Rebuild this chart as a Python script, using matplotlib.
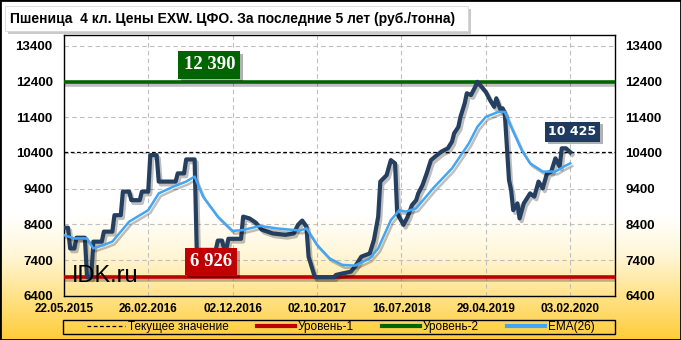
import matplotlib
matplotlib.use('Agg')
import matplotlib.pyplot as plt
import matplotlib.patheffects as pe
from matplotlib.patches import Rectangle
from matplotlib.lines import Line2D
import numpy as np

plt.rcParams['font.family'] = ['Liberation Sans', 'DejaVu Sans']

title = "Пшеница  4 кл. Цены EXW. ЦФО. За последние 5 лет (руб./тонна)"

# weekly series, x = week number since 22.05.2015
price_week = [0, 2, 3, 5, 6, 10, 11, 13, 14, 18, 19, 23, 24, 27, 28, 31, 32, 36, 37, 40,
              41, 44, 45, 53, 54, 57, 58, 62, 63, 72, 73, 75, 76, 77, 78, 84, 85, 88, 91, 94,
              99, 105, 109, 111, 113, 115, 116, 119, 128, 129, 132, 136, 138, 141, 145, 147, 149, 150, 153, 155,
              157, 158, 161, 163, 165, 167, 168, 170, 172, 174, 176, 179, 182, 184, 185, 187, 188, 190, 191, 193,
              195, 196, 198, 200, 202, 204, 205, 207, 208, 209, 211, 212, 213, 215, 216, 218, 221, 223, 225, 227,
              229, 231, 233, 235, 236, 238, 240]
price = [8310, 8310, 7730, 7730, 8030, 8030, 6926, 6926, 7920, 7920, 8200, 8200, 8660, 8660, 9320, 9320, 9080, 9080, 9320, 9320,
         10340, 10340, 9600, 9600, 9830, 9830, 10220, 10220, 7690, 7690, 7950, 7950, 7700, 7700, 8000, 8000, 8620, 8570, 8450, 8250,
         8150, 8110, 8150, 8390, 8510, 8340, 7500, 6926, 6926, 6990, 7030, 7080, 7220, 7500, 7590, 7970, 8620, 9600, 9780, 10200,
         10110, 8710, 8390, 8620, 8940, 9080, 9270, 9500, 9830, 10200, 10300, 10440, 10530, 10720, 10950, 11130, 11410, 11790, 12070, 12020,
         12250, 12390, 12250, 12110, 11880, 11690, 11930, 11600, 11650, 11510, 9640, 9360, 8800, 8990, 8570, 8990, 9270, 9180, 9600, 9410,
         9830, 9880, 10250, 10020, 10530, 10530, 10425]

ema_week = [0, 5, 11, 14, 19, 23, 27, 31, 40, 45, 52, 58, 62, 66, 73, 80, 85, 93, 101, 112,
            115, 120, 126, 132, 138, 145, 149, 155, 159, 162, 167, 175, 184, 192, 196, 200, 206, 209, 212, 217,
            221, 227, 233, 237, 240]
ema = [8105, 8010, 8010, 7730, 7830, 7920, 8200, 8480, 8800, 9270, 9460, 9600, 9740, 9180, 8620, 8220, 8245, 8360, 8290, 8230,
       8290, 7830, 7450, 7270, 7250, 7450, 7730, 8520, 8800, 8760, 8850, 9410, 9970, 10670, 11130, 11410, 11550, 11550, 11130, 10480,
       10110, 9880, 9880, 10020, 10110]

date_labels = ["22.05.2015", "26.02.2016", "02.12.2016", "02.10.2017",
               "16.07.2018", "29.04.2019", "03.02.2020"]
level1 = 6926
level2 = 12390
current = 10425

W, H = 681, 340
fig = plt.figure(figsize=(W / 100, H / 100), dpi=100)

# background gradient white -> gold
bg = fig.add_axes([0, 0, 1, 1], zorder=-10)
bg.axis('off')
rows = np.arange(H)
sy = [0, 215, 255, 296, 340]
r = np.interp(rows, sy, [255, 255, 255, 255, 255])
g = np.interp(rows, sy, [255, 255, 246, 226, 204])
b = np.interp(rows, sy, [255, 255, 214, 136, 55])
grad = np.stack([r, g, b], axis=1)[:, None, :] / 255
bg.imshow(grad, aspect='auto', extent=[0, 1, 0, 1])
bg.set_xlim(0, 1)
bg.set_ylim(0, 1)

# title box with shadow
fig.patches.append(Rectangle((8 / W, 1 - 34 / H), 463 / W, 25 / H, transform=fig.transFigure,
                             fc='#A8A8A8', ec='none', alpha=0.6, zorder=1))
fig.patches.append(Rectangle((5 / W, 1 - 31 / H), 463 / W, 25 / H, transform=fig.transFigure,
                             fc='white', ec='#D0D0D0', lw=0.5, zorder=2))
fig.text(10 / W, 1 - 18.5 / H, title, fontsize=10, fontweight='bold', va='center', ha='left', zorder=3)

# outer frame
fig.patches.append(Rectangle((0, 0), 1, 1, transform=fig.transFigure, fill=False, ec='black', lw=2, zorder=5))

ax = fig.add_axes([63.8 / W, 44 / H, 550.7 / W, 261 / H])
ax.set_facecolor('none')
ax.set_xlim(0, 261)
ax.set_ylim(6400, 13700)
ax.set_yticks(range(6400, 13401, 1000))
ax.set_xticks(range(0, 241, 40))
ax.set_xticklabels(date_labels)
ax.tick_params(axis='both', length=0, labelsize=9.5)
ax.tick_params(axis='y', labelright=True, pad=8)
ax.tick_params(axis='x', labelsize=8.5, pad=5)
for lab in ax.get_xticklabels():
    lab.set_fontweight('bold')
for t in ax.yaxis.get_major_ticks():
    t.label1.set_fontweight('bold')
    t.label2.set_fontweight('bold')
ax.grid(True, color='#BFBFBF', linestyle=(0, (4, 3)), lw=0.8)
for s in ax.spines.values():
    s.set_color('black')
    s.set_linewidth(1)

shadow = [pe.SimpleLineShadow(offset=(1.5, -2), shadow_color='black', alpha=0.25), pe.Normal()]

ax.axhline(level2, color='#006400', lw=2.6, path_effects=shadow, zorder=3)
ax.axhline(level1, color='#C00000', lw=2.6, path_effects=shadow, zorder=3)
ax.axhline(current, color='black', lw=0.9, ls=(0, (3, 2)), zorder=3)

ax.plot(price_week, price, color='#243F60', lw=3, solid_joinstyle='round',
        path_effects=shadow, zorder=4)
ax.plot(ema_week, ema, color='#42A5F5', lw=1.8, solid_joinstyle='round',
        path_effects=shadow, zorder=5)

ax.text(4, 6800, "IDK.ru", fontsize=17, color='black', va='baseline', ha='left', zorder=6)

box_shadow = [pe.SimplePatchShadow(offset=(2, -2), shadow_rgbFace='black', alpha=0.3), pe.Normal()]
for x, y, txt, fc, fam, fs in [(69, 12866, "12 390", '#006400', 'Liberation Serif', 13.5),
                               (69.7, 7364, "6 926", '#C00000', 'Liberation Serif', 13.5),
                               (241, 10995, "10 425", '#1F3A5F', 'DejaVu Sans', 9)]:
    t = ax.text(x, y, txt, color='white', fontsize=fs, fontweight='bold', family=fam,
                ha='center', va='center', zorder=7,
                bbox=dict(boxstyle='square,pad=0.28', fc=fc, ec='none'))
    t.get_bbox_patch().set_path_effects(box_shadow)

# legend: frame drawn separately, entries centred inside
fig.patches.append(Rectangle((63 / W, 1 - 334 / H), 552 / W, 14 / H, transform=fig.transFigure,
                             fill=False, ec='black', lw=1, zorder=4))
handles = [Line2D([], [], color='black', lw=0.9, ls=(0, (3, 2))),
           Line2D([], [], color='#C00000', lw=3),
           Line2D([], [], color='#006400', lw=3),
           Line2D([], [], color='#42A5F5', lw=3)]
labels = ["Текущее значение", "Уровень-1", "Уровень-2", "EMA(26)"]
leg = fig.legend(handles, labels, loc='center', bbox_to_anchor=(341 / W, 1 - 327 / H),
                 ncol=4, fontsize=8.5, frameon=False, handlelength=3.2,
                 handletextpad=0.25, columnspacing=2.4, borderpad=0, borderaxespad=0)

fig.savefig('out.png', dpi=100)
